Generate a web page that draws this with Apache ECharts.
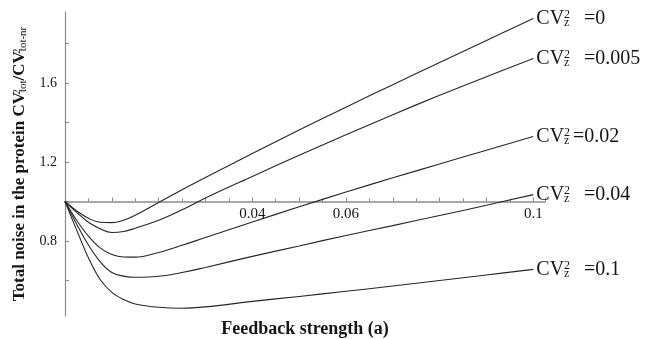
<!DOCTYPE html>
<html><head><meta charset="utf-8">
<script src="https://cdn.jsdelivr.net/npm/echarts@6/dist/echarts.min.js"></script>
<style>html,body{margin:0;padding:0;background:#fff}#c{width:664px;height:339px}</style>
</head><body><div id="c"></div>
<script>
// Feedback strength (a)
const feedback = [0, 0.0025, 0.005, 0.0075, 0.01, 0.0125, 0.015, 0.02, 0.025, 0.03, 0.04, 0.05, 0.06, 0.07, 0.08, 0.09, 0.1];
// CV_z^2 levels (curve labels)
const cvLevels = ['0', '0.005', '0.02', '0.04', '0.1'];
// Total noise ratio CV_tot^2 / CV_tot-nr^2 for each CV_z^2
const noiseCv0   = [1.0, 0.952, 0.915, 0.895, 0.893, 0.905, 0.930, 0.995, 1.060, 1.122, 1.243, 1.362, 1.478, 1.592, 1.704, 1.816, 1.927];
const noiseCv005 = [1.0, 0.945, 0.895, 0.862, 0.843, 0.848, 0.865, 0.905, 0.958, 1.018, 1.127, 1.234, 1.338, 1.440, 1.538, 1.632, 1.724];
const noiseCv02  = [1.0, 0.905, 0.825, 0.765, 0.732, 0.719, 0.718, 0.742, 0.778, 0.818, 0.896, 0.973, 1.048, 1.120, 1.190, 1.260, 1.329];
const noiseCv04  = [1.0, 0.885, 0.780, 0.695, 0.640, 0.622, 0.616, 0.621, 0.640, 0.666, 0.722, 0.775, 0.828, 0.878, 0.929, 0.981, 1.035];
const noiseCv1   = [1.0, 0.855, 0.715, 0.605, 0.540, 0.503, 0.481, 0.464, 0.459, 0.466, 0.494, 0.519, 0.545, 0.572, 0.600, 0.628, 0.656];
// Tick marks / labels
const yTickValues = [0.6, 0.8, 1.0, 1.2, 1.4, 1.6, 1.8];
const yTickLabels = [0.8, 1.2, 1.6];
const xTickLabels = [0.04, 0.06, 0.1];
const yRange = [0.42, 1.96];
const xRange = [0, 0.1025];
const AXIS_CROSS = 1; // horizontal axis crosses the vertical axis at ratio = 1

const serif = 'Liberation Serif';
const ink = '#151515';
const axisGray = '#8a8a8a';
const allSeries = [noiseCv0, noiseCv005, noiseCv02, noiseCv04, noiseCv1];

const series = allSeries.map((vals, i) => ({
  type: 'line',
  name: 'CVz2=' + cvLevels[i],
  data: feedback.map((x, j) => [x, vals[j]]),
  showSymbol: false,
  smooth: 0.4,
  silent: true,
  lineStyle: { color: '#262626', width: 1.1 },
  endLabel: {
    show: true,
    distance: 3,
    formatter: () => '{m|CV}{sup|2}{sub|z}{eq|=' + cvLevels[i] + '}',
    rich: {
      m: { fontFamily: serif, fontSize: 20, color: ink },
      sup: { fontFamily: serif, fontSize: 12, color: ink, verticalAlign: 'top', width: 0 },
      sub: { fontFamily: serif, fontSize: 12, color: ink, verticalAlign: 'bottom', width: 7 },
      eq: { fontFamily: serif, fontSize: 20, color: ink, padding: [0, 0, 0, i === 2 ? 2 : 13] }
    }
  }
}));

const chart = echarts.init(document.getElementById('c'));
chart.setOption({
  animation: false,
  backgroundColor: '#fff',
  grid: { left: 65, top: 12, right: 119, bottom: 23, outerBoundsMode: 'none', containLabel: false },
  xAxis: {
    type: 'value', min: xRange[0], max: xRange[1], interval: 0.01,
    position: 'bottom', offset: 0,
    axisLine: { onZero: false, lineStyle: { color: axisGray, width: 1.5 } },
    axisTick: { inside: true, length: 4, lineStyle: { color: axisGray } },
    minorTick: { show: true, splitNumber: 2, length: 3, lineStyle: { color: axisGray } },
    splitLine: { show: false },
    axisLabel: {
      margin: 5, fontFamily: serif, fontSize: 15, color: ink,
      formatter: v => xTickLabels.some(t => Math.abs(t - v) < 1e-9) ? String(v) : ''
    }
  },
  yAxis: {
    type: 'value', min: yRange[0], max: yRange[1],
    axisLine: { show: true, lineStyle: { color: axisGray, width: 1.2 } },
    axisTick: { show: true, inside: true, length: 4, customValues: yTickValues, lineStyle: { color: axisGray } },
    splitLine: { show: false },
    axisLabel: {
      margin: 8, fontFamily: serif, fontSize: 14, color: ink,
      customValues: yTickLabels,
      formatter: v => v.toFixed(1)
    },
    name: '{n|Total noise in the protein CV}{sup|2}{sub|tot}{n|/CV}{sup|2}{sub|tot-nr}',
    nameLocation: 'middle', nameRotate: 90, nameGap: 26,
    nameTextStyle: {
      rich: {
        n: { fontFamily: serif, fontSize: 17, fontWeight: 'bold', color: ink },
        sup: { fontFamily: serif, fontSize: 11, color: ink, verticalAlign: 'top', width: 0 },
        sub: { fontFamily: serif, fontSize: 11, color: ink, verticalAlign: 'bottom' }
      }
    }
  },
  graphic: [{
    type: 'text', x: 305, y: 329, silent: true,
    style: { text: 'Feedback strength (a)', fontFamily: serif, fontSize: 18, fontWeight: 'bold', fill: ink, align: 'center', verticalAlign: 'middle' }
  }],
  series: series
});
// place the horizontal axis where the vertical scale reaches the crossing value
const crossPx = chart.convertToPixel({ yAxisIndex: 0 }, AXIS_CROSS);
const bottomPx = chart.convertToPixel({ yAxisIndex: 0 }, yRange[0]);
chart.setOption({ xAxis: { offset: -(bottomPx - crossPx) } });
</script></body></html>
